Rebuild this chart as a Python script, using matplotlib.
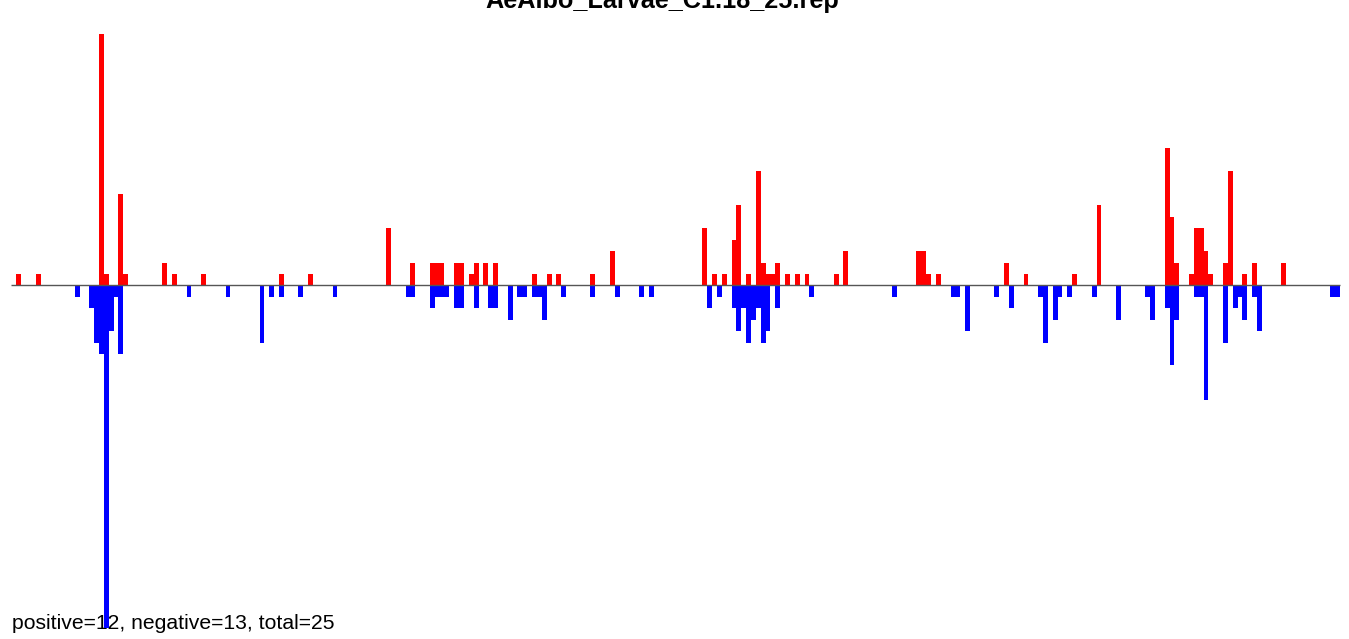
import matplotlib
matplotlib.use("Agg")
import matplotlib.pyplot as plt

# ---- data (bin index, count) ----
title = "AeAlbo_Larvae_C1.18_25.rep"
summary = "positive=12, negative=13, total=25"
n_bins = 273

red_pos = [1, 5, 18, 19, 22, 23, 31, 33, 39, 55, 61, 77, 82, 86, 87, 88, 91, 92, 94, 95,
           97, 99, 107, 110, 112, 119, 123, 142, 144, 146, 148, 149, 151, 153, 154, 155,
           156, 157, 159, 161, 163, 169, 171, 186, 187, 188, 190, 204, 208, 218, 223, 237,
           238, 239, 242, 243, 244, 245, 246, 249, 250, 253, 255, 261]
red_val = [1, 1, 22, 1, 8, 1, 2, 1, 1, 1, 1, 5, 2, 2, 2, 2, 2, 2, 1, 2,
           2, 2, 1, 1, 1, 1, 3, 5, 1, 1, 4, 7, 1, 10, 2, 1,
           1, 2, 1, 1, 1, 1, 3, 3, 3, 1, 1, 2, 1, 1, 7, 12,
           6, 2, 1, 5, 5, 3, 1, 2, 10, 1, 2, 2]

blue_pos = [13, 16, 17, 18, 19, 20, 21, 22, 36, 44, 51, 53, 55, 59, 66, 81, 82, 86, 87, 88,
            89, 91, 92, 95, 98, 99, 102, 104, 105, 107, 108, 109, 113, 119, 124, 129, 131,
            143, 145, 148, 149, 150, 151, 152, 153, 154, 155, 157, 164, 181, 193, 194, 196,
            202, 205, 211, 212, 214, 215, 217, 222, 227, 233, 234, 237, 238, 239, 243, 244,
            245, 249, 251, 252, 253, 255, 256, 271, 272]
blue_val = [1, 2, 5, 6, 30, 4, 1, 6, 1, 1, 5, 1, 1, 1, 1, 1, 1, 2, 1, 1,
            1, 2, 2, 2, 2, 2, 3, 1, 1, 1, 1, 3, 1, 1, 1, 1, 1,
            2, 1, 2, 4, 2, 5, 3, 2, 5, 4, 2, 1, 1, 1, 1, 4,
            1, 2, 1, 5, 3, 1, 1, 1, 3, 1, 3, 2, 7, 3, 1, 1,
            10, 5, 2, 1, 3, 1, 4, 1, 1]

plt.rcParams['font.family'] = ['Liberation Sans', 'DejaVu Sans']

W, H = 1349, 639
fig = plt.figure(figsize=(W / 100, H / 100), dpi=100)
ax = fig.add_axes([0, 0, 1, 1])

# pixel geometry of the reference
x0_px, bw_px = 11.4, 4.866
zero_px, unit_px = 285.4, 11.43
ax.set_xlim(-x0_px / bw_px, (W - x0_px) / bw_px)
ax.set_ylim(-(H - zero_px) / unit_px, zero_px / unit_px)
ax.axis('off')

ax.bar(red_pos, red_val, width=1.0, align='edge', color='#FF0000', linewidth=0, zorder=2)
ax.bar(blue_pos, [-v for v in blue_val], width=1.0, align='edge', color='#0000FF',
       linewidth=0, zorder=2)
ax.hlines(0, 0, n_bins, color='#555555', linewidth=1.0, zorder=3)

ax.text(662 / W, 1 - 8.3 / H, title, transform=fig.transFigure, ha='center',
        va='baseline', fontsize=18.2, fontweight='bold', color='black', zorder=1)
ax.text(12 / W, 1 - 629.3 / H, summary, transform=fig.transFigure, ha='left',
        va='baseline', fontsize=15.2, color='black', zorder=1)

fig.savefig('out.png', dpi=100)
